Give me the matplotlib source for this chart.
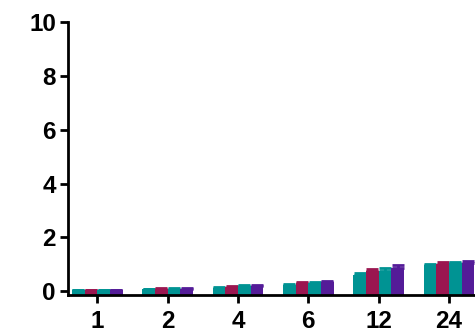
import numpy as np
import matplotlib.pyplot as plt

plt.rcParams['font.family'] = ['Liberation Sans', 'DejaVu Sans']
plt.rcParams['font.weight'] = 'bold'

categories = ['1', '2', '4', '6', '12', '24']
series_a = [0.05, 0.08, 0.14, 0.22, 0.61, 0.98]
series_b = [0.05, 0.10, 0.17, 0.30, 0.74, 1.02]
series_c = [0.05, 0.09, 0.20, 0.31, 0.77, 1.04]
series_d = [0.05, 0.09, 0.20, 0.35, 0.87, 1.07]
err_a = [0.01, 0.02, 0.03, 0.04, 0.08, 0.04]
err_b = [0.01, 0.02, 0.03, 0.04, 0.09, 0.06]
err_c = [0.01, 0.02, 0.03, 0.04, 0.10, 0.05]
err_d = [0.01, 0.02, 0.03, 0.05, 0.11, 0.06]

colors = ['#009393', '#9b1650', '#009393', '#541c98']
series = [series_a, series_b, series_c, series_d]
errors = [err_a, err_b, err_c, err_d]

ymin = -0.12
fig = plt.figure(figsize=(4.75, 3.34), dpi=100)
ax = fig.add_axes([0.144, 0.118, 0.856, 0.816])

x = np.arange(len(categories))
w = 0.18
for i, (vals, errs, c) in enumerate(zip(series, errors, colors)):
    pos = x + (i - 1.5) * w
    vals = np.array(vals)
    ax.bar(pos, vals - ymin, bottom=ymin, width=w, color=c, edgecolor='none', zorder=2)
    ax.errorbar(pos, vals, yerr=[np.zeros(len(errs)), errs], fmt='none',
                ecolor=c, elinewidth=2, capsize=4, capthick=2, zorder=2)

ax.set_xlim(-0.41, 5.37)
ax.set_ylim(ymin, 10)
ax.set_yticks([0, 2, 4, 6, 8, 10])
ax.set_xticks(x)
ax.set_xticklabels(categories)

for s in ['top', 'right']:
    ax.spines[s].set_visible(False)
for s in ['left', 'bottom']:
    ax.spines[s].set_linewidth(2)
ax.spines['left'].set_bounds(ymin, 10)
ax.tick_params(axis='both', width=2, length=6, labelsize=17.5)
ax.tick_params(axis='x', pad=5)
ax.tick_params(axis='y', pad=3)
for lab in ax.get_xticklabels() + ax.get_yticklabels():
    lab.set_fontweight('bold')

fig.savefig('out.png', dpi=100)
